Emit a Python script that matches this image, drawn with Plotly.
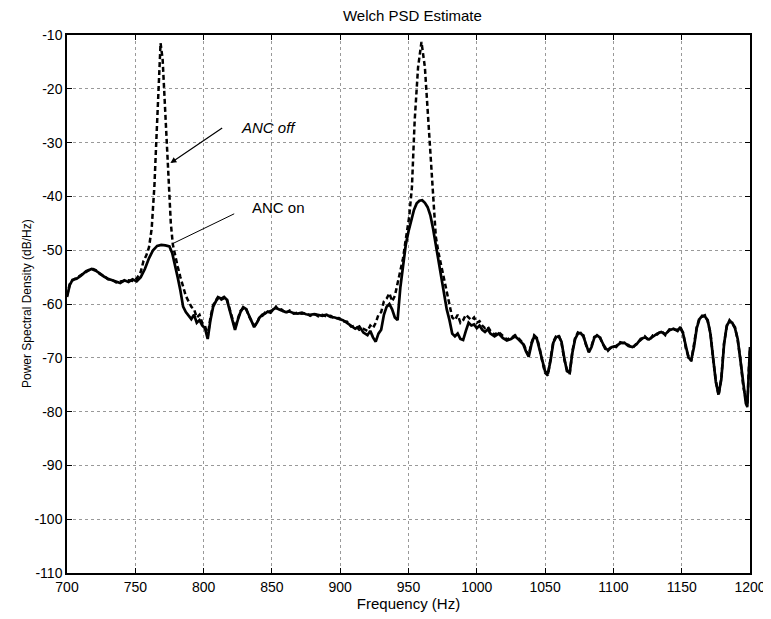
import plotly.graph_objects as go

# ANC on (solid)
freq_on = [700, 702, 704, 707, 710, 714, 718, 721, 724, 727, 730, 733, 736, 739, 742, 745, 748, 751, 754, 757,
           760, 763, 766, 769, 772, 775, 777, 779, 781, 783, 785, 787, 789, 791, 793, 795, 797, 799, 801, 803,
           805, 807, 809, 811, 813, 815, 817, 819, 821, 823, 825, 827, 829, 831, 833, 835, 837, 839, 841, 843,
           845, 847, 849, 851, 853, 855, 857, 860, 863, 866, 869, 872, 875, 878, 881, 884, 887, 890, 893, 896,
           899, 902, 905, 908, 911, 914, 917, 920, 922, 924, 926, 928, 930, 932, 934, 936, 938, 940, 942, 944,
           946, 948, 950, 952, 954, 956, 958, 960, 962, 964, 966, 968, 970, 972, 974, 976, 978, 980, 982, 984,
           986, 988, 990, 992, 994, 996, 998, 1000, 1002, 1004, 1006, 1008, 1010, 1013, 1016, 1019, 1022, 1025,
           1028, 1031, 1034, 1036, 1038, 1040, 1042, 1044, 1046, 1048, 1050, 1052, 1054, 1056, 1058, 1060, 1062,
           1064, 1066, 1068, 1070, 1072, 1074, 1076, 1078, 1080, 1082, 1084, 1086, 1088, 1090, 1092, 1094, 1096,
           1099, 1102, 1105, 1108, 1111, 1114, 1117, 1120, 1123, 1126, 1129, 1132, 1135, 1138, 1141, 1144, 1147,
           1149, 1151, 1153, 1155, 1157, 1159, 1161, 1163, 1165, 1167, 1169, 1171, 1173, 1175, 1177, 1179, 1181,
           1183, 1185, 1187, 1189, 1191, 1193, 1195, 1197, 1198, 1199, 1200]
psd_on = [-58.7, -56.5, -55.5, -55.3, -54.8, -53.9, -53.5, -53.8, -54.3, -54.9, -55.3, -55.6, -55.9, -56.1, -55.6,
          -55.9, -55.4, -55.8, -55.0, -53.5, -51.5, -50.0, -49.2, -49.0, -49.1, -49.3, -50.5, -52.5, -55.0, -57.5,
          -60.5, -61.5, -62.2, -62.8, -62.0, -63.5, -63.0, -64.0, -64.5, -66.5, -63.0, -60.5, -59.5, -58.8, -59.0,
          -58.7, -59.2, -61.0, -63.0, -64.8, -63.0, -61.5, -60.6, -60.9, -62.0, -63.3, -64.3, -63.5, -62.5, -62.0,
          -61.8, -61.4, -61.6, -61.0, -60.7, -61.0, -61.2, -61.5, -61.4, -61.7, -61.8, -61.6, -61.9, -62.0, -61.9,
          -62.1, -62.2, -62.0, -62.4, -62.5, -62.8, -63.0, -63.5, -64.0, -64.6, -64.2, -65.3, -65.8, -65.0, -66.2,
          -67.0, -65.5, -64.8, -62.0, -60.5, -60.0, -61.0, -62.5, -63.0, -57.0, -52.5, -49.0, -46.5, -44.5, -42.5,
          -41.3, -40.8, -40.7, -41.2, -42.0, -43.5, -46.0, -49.0, -52.5, -55.5, -58.5, -61.0, -63.0, -65.5, -66.0,
          -65.5, -66.5, -66.7, -65.0, -63.5, -64.0, -63.8, -64.5, -64.0, -64.8, -65.2, -64.7, -65.5, -66.0, -65.5,
          -66.3, -66.8, -66.5, -66.0, -66.7, -67.5, -68.8, -69.8, -67.5, -66.0, -66.5, -68.5, -71.0, -72.5, -73.0,
          -70.5, -67.2, -66.2, -66.0, -67.0, -70.0, -72.5, -72.8, -69.0, -66.5, -65.5, -65.4, -66.0, -67.5, -69.0,
          -68.0, -66.3, -65.8, -66.2, -67.2, -68.3, -68.5, -68.0, -67.8, -67.3, -67.2, -67.8, -68.0, -67.5, -66.5,
          -66.2, -66.6, -66.0, -65.5, -65.2, -65.6, -64.9, -64.6, -65.0, -64.3, -65.5, -68.0, -70.0, -70.4, -68.0,
          -64.5, -62.8, -62.2, -62.3, -63.0, -65.5, -70.0, -74.5, -76.8, -74.0, -67.5, -64.0, -63.2, -63.5, -64.5,
          -66.5, -70.5, -75.0, -78.5, -79.0, -73.0, -68.0]

# ANC off (dashed)
freq_off = [700, 702, 704, 707, 710, 714, 718, 721, 724, 727, 730, 733, 736, 739, 742, 745, 748, 751, 754, 756,
            758, 760, 762, 764, 765.5, 767, 768.5, 770, 771.5, 773, 774.5, 776, 777.5, 779, 781, 783, 785, 787,
            789, 791, 793, 795, 797, 799, 801, 803, 805, 807, 809, 811, 813, 815, 817, 819, 821, 823, 825, 827,
            829, 831, 833, 835, 837, 839, 841, 843, 845, 847, 849, 851, 853, 855, 857, 860, 863, 866, 869, 872,
            875, 878, 881, 884, 887, 890, 893, 896, 899, 902, 905, 908, 911, 914, 917, 920, 922, 924, 926, 928,
            930, 932, 934, 936, 938, 940, 942, 944, 946, 948, 950.5, 952.5, 954.5, 957, 959.5, 962, 964.5, 967,
            968.5, 970, 972, 974, 976, 978, 980, 982, 984, 986, 988, 990, 992, 994, 996, 998, 1000, 1002, 1004,
            1006, 1008, 1010, 1013, 1016, 1019, 1022, 1025, 1028, 1031, 1034, 1036, 1038, 1040, 1042, 1044, 1046,
            1048, 1050, 1052, 1054, 1056, 1058, 1060, 1062, 1064, 1066, 1068, 1070, 1072, 1074, 1076, 1078, 1080,
            1082, 1084, 1086, 1088, 1090, 1092, 1094, 1096, 1099, 1102, 1105, 1108, 1111, 1114, 1117, 1120, 1123,
            1126, 1129, 1132, 1135, 1138, 1141, 1144, 1147, 1149, 1151, 1153, 1155, 1157, 1159, 1161, 1163, 1165,
            1167, 1169, 1171, 1173, 1175, 1177, 1179, 1181, 1183, 1185, 1187, 1189, 1191, 1193, 1195, 1197, 1198,
            1199, 1200]
psd_off = [-58.5, -56.3, -55.6, -55.1, -54.6, -54.0, -53.4, -53.7, -54.4, -54.8, -55.4, -55.5, -56.0, -55.8, -55.7,
           -55.6, -55.7, -55.3, -54.0, -52.0, -51.0, -49.5, -46.0, -38.0, -29.0, -19.0, -11.5, -14.5, -22.0, -31.0,
           -38.5, -45.0, -49.0, -51.0, -53.0, -55.0, -57.0, -58.5, -59.5, -60.5, -61.0, -62.5, -62.0, -63.5, -64.0,
           -66.0, -62.5, -60.2, -59.3, -58.5, -59.2, -58.9, -59.0, -60.8, -62.8, -64.5, -62.8, -61.3, -60.8, -60.7,
           -62.2, -63.0, -64.0, -63.7, -62.3, -62.2, -61.6, -61.6, -61.3, -61.2, -60.5, -61.2, -61.0, -61.7, -61.2,
           -61.8, -61.6, -61.8, -61.7, -62.2, -61.8, -62.3, -62.0, -62.3, -62.2, -62.7, -62.6, -63.2, -63.3, -64.2,
           -64.0, -64.8, -64.6, -65.0, -64.0, -64.5, -63.5, -62.0, -61.5, -59.5, -59.0, -58.0, -59.5, -58.5, -56.0,
           -54.0, -51.5, -48.0, -43.8, -38.3, -26.0, -16.0, -11.3, -16.0, -25.8, -35.0, -43.0, -47.5, -50.5, -53.0,
           -55.5, -58.0, -60.5, -62.5, -63.0, -62.0, -63.5, -63.0, -62.0, -62.5, -63.0, -62.5, -63.5, -63.2, -64.0,
           -64.5, -64.2, -65.0, -65.7, -65.2, -66.0, -66.6, -66.3, -65.8, -66.5, -67.3, -68.5, -69.5, -67.2, -65.8,
           -66.3, -68.2, -70.8, -72.8, -73.3, -70.2, -67.0, -66.0, -65.8, -67.2, -70.3, -72.2, -73.0, -68.7, -66.3,
           -65.3, -65.6, -65.8, -67.7, -68.8, -67.8, -66.1, -65.9, -66.0, -67.4, -68.1, -68.7, -67.8, -68.0, -67.1,
           -67.4, -67.6, -68.2, -67.3, -66.7, -66.0, -66.8, -65.8, -65.7, -65.0, -65.8, -64.7, -64.8, -64.8, -64.5,
           -65.3, -68.2, -69.8, -70.6, -67.8, -64.3, -62.6, -62.4, -62.1, -63.2, -65.3, -70.2, -74.3, -77.0, -73.8,
           -67.3, -64.2, -63.0, -63.7, -64.3, -66.7, -70.3, -75.2, -78.3, -79.2, -72.8, -68.2]

x_ticks = [700, 750, 800, 850, 900, 950, 1000, 1050, 1100, 1150, 1200]
y_ticks = [-110, -100, -90, -80, -70, -60, -50, -40, -30, -20, -10]
y_tick_text = ["-110", "-100", "-90", "-80", "-70", "-60", "-50", "-40", "-30", "-20", "-10"]

font = "Liberation Sans, Arial, sans-serif"

fig = go.Figure()
fig.add_trace(go.Scatter(x=freq_off, y=psd_off, mode="lines", name="ANC off",
                         line=dict(color="black", width=2.5, dash="5px,3px")))
fig.add_trace(go.Scatter(x=freq_on, y=psd_on, mode="lines", name="ANC on",
                         line=dict(color="black", width=2.7)))

# labels with pointer lines
fig.add_annotation(x=775.7, y=-33.8, ax=814.7, ay=-27.1, axref="x", ayref="y", text="",
                   showarrow=True, arrowhead=2, arrowsize=1, arrowwidth=1.2, arrowcolor="black")
fig.add_annotation(x=826, y=-27.1, text="<i>ANC off</i>", showarrow=False, xanchor="left",
                   font=dict(size=15, color="black", family=font))
fig.add_annotation(x=778, y=-48.7, ax=823.5, ay=-43.1, axref="x", ayref="y", text="",
                   showarrow=True, arrowhead=0, arrowwidth=1, arrowcolor="black")
fig.add_annotation(x=834, y=-42, text="ANC on", showarrow=False, xanchor="left",
                   font=dict(size=15, color="black", family=font))

# y axis title placed by hand
fig.add_annotation(xref="paper", yref="paper", x=0, y=0.5, xshift=-49, textangle=-90,
                   text="Power Spectral Density (dB/Hz)", showarrow=False,
                   font=dict(size=12, color="black", family=font))

axis_common = dict(showline=True, linecolor="black", linewidth=1.5, mirror="ticks", ticks="inside",
                   ticklen=5, tickcolor="black", showgrid=True, gridcolor="#999999", griddash="dot",
                   gridwidth=1, zeroline=False, automargin=False,
                   tickfont=dict(size=14, color="black", family=font))

fig.update_xaxes(range=[700, 1200], tickvals=x_ticks, title=dict(text="Frequency (Hz)", standoff=2,
                 font=dict(size=15, color="black", family=font)), **axis_common)
fig.update_yaxes(range=[-110, -10], tickvals=y_ticks, ticktext=y_tick_text, **axis_common)

# page body adds an 8px offset, so the figure is a bit smaller than the window
fig.update_layout(
    width=763, height=611,
    margin=dict(l=59, r=21, t=27, b=46, autoexpand=False),
    title=dict(text="Welch PSD Estimate", x=0.53, xanchor="center", y=1 - 8 / 611, yanchor="middle",
               font=dict(size=15, color="black", family=font)),
    plot_bgcolor="white", paper_bgcolor="white",
    showlegend=False,
)

fig.write_html("out.html")
